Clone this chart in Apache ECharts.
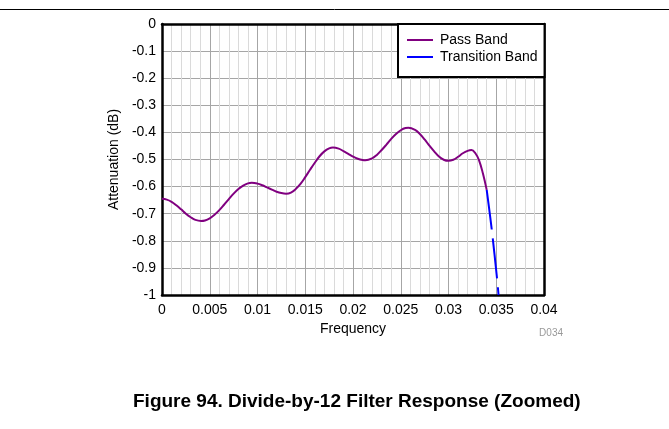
<!DOCTYPE html>
<html>
<head>
<meta charset="utf-8">
<script src="https://cdn.jsdelivr.net/npm/echarts@6/dist/echarts.min.js"></script>
<style>
html,body{margin:0;padding:0;background:#fff;}
#chart{width:669px;height:429px;}
</style>
</head>
<body>
<div id="chart"></div>
<script>
// Pass band: frequency / attenuation (dB)
var passFreq = [0, 0.0005, 0.001, 0.0015, 0.002, 0.0025, 0.003, 0.0035, 0.0041, 0.0045, 0.005, 0.0055, 0.006, 0.0065, 0.007, 0.0075, 0.008, 0.0085, 0.009, 0.0094, 0.010, 0.0105, 0.011, 0.0115, 0.012, 0.0125, 0.013, 0.0135, 0.014, 0.0145, 0.015, 0.0155, 0.016, 0.0165, 0.017, 0.0175, 0.0179, 0.0185, 0.019, 0.0195, 0.020, 0.0205, 0.021, 0.0213, 0.022, 0.0225, 0.023, 0.0235, 0.024, 0.0245, 0.025, 0.0255, 0.0258, 0.0265, 0.027, 0.0275, 0.028, 0.0285, 0.029, 0.0295, 0.030, 0.0305, 0.031, 0.0315, 0.032, 0.0324, 0.0328, 0.0332, 0.0336, 0.034];
var passAtt  = [-0.645, -0.648, -0.656, -0.669, -0.684, -0.700, -0.713, -0.723, -0.727, -0.725, -0.717, -0.704, -0.687, -0.667, -0.646, -0.626, -0.609, -0.596, -0.588, -0.586, -0.589, -0.595, -0.603, -0.611, -0.619, -0.624, -0.626, -0.622, -0.609, -0.590, -0.565, -0.538, -0.512, -0.488, -0.470, -0.459, -0.456, -0.460, -0.469, -0.479, -0.489, -0.497, -0.502, -0.503, -0.496, -0.483, -0.465, -0.445, -0.424, -0.406, -0.392, -0.384, -0.383, -0.391, -0.406, -0.426, -0.449, -0.470, -0.489, -0.501, -0.505, -0.501, -0.490, -0.477, -0.468, -0.465, -0.476, -0.503, -0.551, -0.612];
// Transition band
var transFreq = [0.0340, 0.03452, 0.0351, 0.03524];
var transAtt  = [-0.612, -0.756, -0.945, -1.0];
// Axis tick labels and texts
var xTicks = ['0', '0.005', '0.01', '0.015', '0.02', '0.025', '0.03', '0.035', '0.04'];
var yTicks = ['0', '-0.1', '-0.2', '-0.3', '-0.4', '-0.5', '-0.6', '-0.7', '-0.8', '-0.9', '-1'];
var seriesNames = ['Pass Band', 'Transition Band'];
var xName = 'Frequency';
var yName = 'Attenuation (dB)';
var caption = 'Figure 94. Divide-by-12 Filter Response (Zoomed)';
var codeTag = 'D034';

function zip(a, b) { return a.map(function (v, i) { return [v, b[i]]; }); }

var FONT = '"Liberation Sans", Arial, sans-serif';
var chart = echarts.init(document.getElementById('chart'), null, {renderer: 'canvas'});

var option = {
  animation: false,
  backgroundColor: '#fff',
  textStyle: {fontFamily: FONT},
  grid: {left: 162, right: 125, top: 24, bottom: 134, containLabel: false},
  legend: {
    orient: 'vertical',
    left: 398, top: 24,
    data: seriesNames,
    icon: 'path://M0,0H26V2H0Z',
    backgroundColor: '#fff',
    borderColor: '#000', borderWidth: 2,
    padding: [9, 7, 13, 9],
    itemGap: 3,
    itemWidth: 26, itemHeight: 2,
    textStyle: {fontFamily: FONT, fontSize: 14, color: '#000', padding: [0, 0, 0, 2], lineHeight: 14, height: 14},
    z: 10
  },
  xAxis: [{
    type: 'value', min: 0, max: 0.04, interval: 0.005,
    name: xName, nameLocation: 'middle', nameGap: 25,
    nameTextStyle: {fontFamily: FONT, fontSize: 14, color: '#000'},
    axisLine: {show: true, onZero: false, lineStyle: {color: '#000', width: 2.5}},
    axisTick: {show: false},
    axisLabel: {fontFamily: FONT, fontSize: 14, color: '#000', margin: 8,
      formatter: function (v) { var i = Math.round(v / 0.005); return xTicks[i] !== undefined ? xTicks[i] : ''; }},
    splitLine: {show: true, lineStyle: {color: '#a6a6a6', width: 1}},
    minorTick: {show: false, splitNumber: 5},
    minorSplitLine: {show: true, lineStyle: {color: '#dadada', width: 1}}
  }, {
    type: 'value', position: 'top', min: 0, max: 0.04,
    axisLine: {show: true, onZero: false, lineStyle: {color: '#000', width: 2.5}},
    axisTick: {show: false}, axisLabel: {show: false}, splitLine: {show: false}
  }],
  yAxis: [{
    type: 'value', min: -1, max: 0, interval: 0.1,
    name: yName, nameLocation: 'middle', nameGap: 34, nameRotate: 90,
    nameTextStyle: {fontFamily: FONT, fontSize: 14, color: '#000'},
    axisLine: {show: true, onZero: false, lineStyle: {color: '#000', width: 2.5}},
    axisTick: {show: false},
    axisLabel: {fontFamily: FONT, fontSize: 14, color: '#000', margin: 6,
      formatter: function (v) { var i = Math.round(-v / 0.1); return yTicks[i] !== undefined ? yTicks[i] : ''; }},
    splitLine: {show: true, lineStyle: {color: '#a6a6a6', width: 1}}
  }, {
    type: 'value', position: 'right', min: -1, max: 0,
    axisLine: {show: true, onZero: false, lineStyle: {color: '#000', width: 2.5}},
    axisTick: {show: false}, axisLabel: {show: false}, splitLine: {show: false}
  }],
  series: [{
    name: seriesNames[0], type: 'line', xAxisIndex: 0, yAxisIndex: 0,
    data: zip(passFreq, passAtt), smooth: 0.4, symbol: 'none', showSymbol: false,
    lineStyle: {color: '#800080', width: 2}, itemStyle: {color: '#800080'},
    z: 3
  }, {
    name: seriesNames[1], type: 'line', xAxisIndex: 0, yAxisIndex: 0,
    data: zip(transFreq, transAtt), smooth: 0.3, symbol: 'none', showSymbol: false,
    lineStyle: {color: '#0000ff', width: 2, type: [40, 9]}, itemStyle: {color: '#0000ff'},
    z: 3
  }],
  graphic: [
    {type: 'line', shape: {x1: 0, y1: 9.5, x2: 669, y2: 9.5}, style: {stroke: '#000', lineWidth: 1}},
    {type: 'text', right: 106, top: 328, style: {text: codeTag, font: '10px ' + FONT, fill: '#999'}},
    {type: 'text', left: 133, top: 392, style: {text: caption, font: 'bold 19px ' + FONT, fill: '#000'}}
  ]
};
chart.setOption(option);
</script>
</body>
</html>
